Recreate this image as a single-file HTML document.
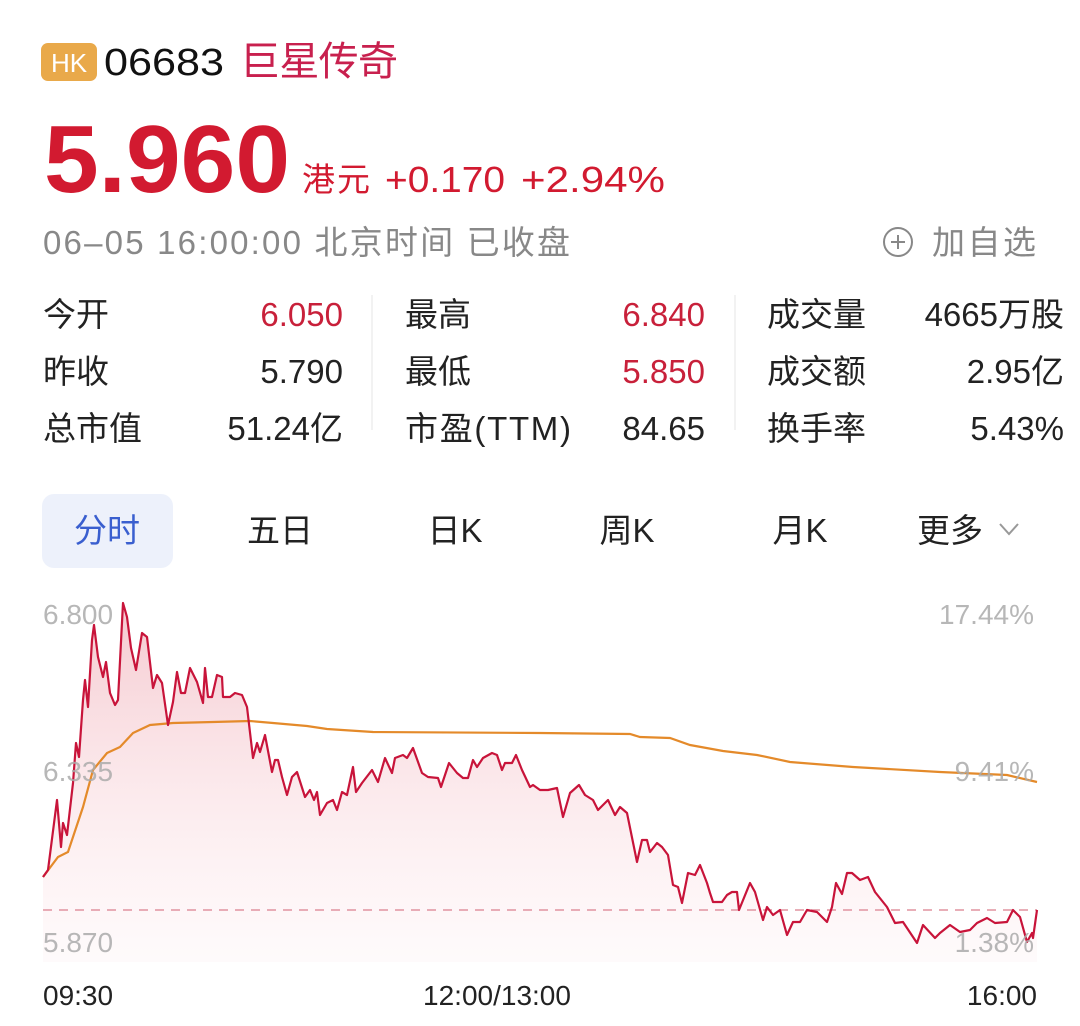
<!DOCTYPE html>
<html><head><meta charset="utf-8"><style>
html,body{margin:0;padding:0;background:#fff;}
body{width:1080px;height:1021px;overflow:hidden;}
svg text{font-family:"Liberation Sans","Noto Sans CJK SC",sans-serif;}
</style></head><body>
<svg width="1080" height="1021" viewBox="0 0 1080 1021" xmlns="http://www.w3.org/2000/svg">
<defs>
<linearGradient id="g" x1="0" y1="0" x2="0" y2="1">
<stop offset="0" stop-color="#f2b8c0" stop-opacity="0.75"/>
<stop offset="1" stop-color="#fdecef" stop-opacity="0.25"/>
</linearGradient>
</defs>
<!-- header -->
<rect x="41" y="43" width="56" height="38" rx="7" fill="#e9a94a"/>
<text x="69" y="72" font-size="26" fill="#fff" text-anchor="middle">HK</text>
<text x="104" y="75" font-size="38" fill="#111" textLength="120" lengthAdjust="spacingAndGlyphs">06683</text>
<text x="240" y="75" font-size="40" fill="#c8204e" textLength="158">巨星传奇</text>
<text x="44" y="192" font-size="96" font-weight="bold" fill="#d21a30" textLength="246" lengthAdjust="spacingAndGlyphs">5.960</text>
<text x="302" y="191" font-size="33" fill="#d21a30" textLength="68">港元</text>
<text x="385" y="192" font-size="36" fill="#d21a30" textLength="120" lengthAdjust="spacingAndGlyphs">+0.170</text>
<text x="521" y="192" font-size="36" fill="#d21a30" textLength="144" lengthAdjust="spacingAndGlyphs">+2.94%</text>
<text x="43" y="254" font-size="33" fill="#888" textLength="527">06–05 16:00:00  北京时间  已收盘</text>
<circle cx="898" cy="242" r="14" fill="none" stroke="#888" stroke-width="2"/>
<path d="M891 242h14M898 235v14" stroke="#888" stroke-width="2"/>
<text x="932" y="254" font-size="33" fill="#888" textLength="104">加自选</text>
<!-- stats -->
<g font-size="33" fill="#222">
<text x="43" y="326">今开</text><text x="43" y="383">昨收</text><text x="43" y="440">总市值</text>
<text x="343" y="326" text-anchor="end" fill="#c8203a">6.050</text>
<text x="343" y="383" text-anchor="end">5.790</text>
<text x="343" y="440" text-anchor="end">51.24亿</text>
<text x="405" y="326">最高</text><text x="405" y="383">最低</text><text x="405" y="440" textLength="166">市盈(TTM)</text>
<text x="705" y="326" text-anchor="end" fill="#c8203a">6.840</text>
<text x="705" y="383" text-anchor="end" fill="#c8203a">5.850</text>
<text x="705" y="440" text-anchor="end">84.65</text>
<text x="767" y="326">成交量</text><text x="767" y="383">成交额</text><text x="767" y="440">换手率</text>
<text x="1064" y="326" text-anchor="end">4665万股</text>
<text x="1064" y="383" text-anchor="end">2.95亿</text>
<text x="1064" y="440" text-anchor="end">5.43%</text>
</g>
<line x1="372" y1="295" x2="372" y2="430" stroke="#eee" stroke-width="1.5"/>
<line x1="735" y1="295" x2="735" y2="430" stroke="#eee" stroke-width="1.5"/>
<!-- tabs -->
<rect x="42" y="494" width="131" height="74" rx="12" fill="#edf1fb"/>
<g font-size="33" fill="#222">
<text x="107" y="542" text-anchor="middle" fill="#3a5fcf">分时</text>
<text x="280" y="542" text-anchor="middle">五日</text>
<text x="455" y="542" text-anchor="middle">日K</text>
<text x="627" y="542" text-anchor="middle">周K</text>
<text x="800" y="542" text-anchor="middle">月K</text>
<text x="917" y="542">更多</text>
</g>
<path d="M1000 524l9 10 9-10" fill="none" stroke="#999" stroke-width="2"/>
<!-- chart -->
<polygon fill="url(#g)" points="43,877 48,870 57,800 61,847 63,823 67,835 73,783 76,743 79,757 83,700 85,680 88,707 92,640 94,625 98,657 103,677 106,662 110,693 115,705 118,700 123,603 127,617 131,648 136,670 142,633 147,637 153,688 157,675 162,683 168,725 173,702 177,672 181,693 185,693 190,668 197,682 203,703 205,668 208,697 212,697 217,675 222,677 223,697 230,697 235,693 242,695 247,707 253,758 257,743 260,752 265,735 272,772 275,760 278,760 282,777 287,795 292,777 297,772 305,797 310,790 314,800 317,792 320,815 327,803 333,800 337,810 342,792 347,795 353,767 356,792 362,783 372,770 378,782 385,758 392,773 395,758 403,755 407,758 413,748 422,773 428,777 438,778 441,787 449,763 457,773 463,778 468,778 473,760 477,767 483,758 492,753 497,755 502,770 505,763 512,763 516,755 522,770 530,787 533,785 540,790 548,790 557,788 563,817 570,793 579,785 585,795 593,800 598,810 608,800 615,815 620,807 627,813 637,862 642,840 647,840 650,852 657,843 662,847 668,855 673,885 678,887 682,903 688,873 695,875 700,865 707,883 710,893 713,902 722,902 727,895 732,892 737,892 739,910 750,883 755,892 763,920 767,907 773,915 780,910 787,935 793,922 800,922 807,910 817,912 827,922 832,907 836,883 842,894 847,873 852,873 860,880 868,877 875,892 887,907 895,923 903,922 917,943 923,925 935,938 940,933 950,925 960,932 970,930 977,923 987,918 995,923 1007,922 1013,910 1020,917 1027,942 1032,933 1033,938 1037,910 1037,962 43,962"/>
<line x1="43" y1="910" x2="1037" y2="910" stroke="#e0939f" stroke-width="1.5" stroke-dasharray="9,7"/>
<polyline fill="none" stroke="#e48a2a" stroke-width="2.2" points="43,877 58,857 68,852 83,807 93,770 107,753 120,747 133,733 150,725 173,723 213,722 250,721 273,723 307,726 327,729 373,732 540,733 630,734 640,737 670,738 690,745 723,751 757,755 790,762 853,767 940,772 1007,775 1037,782"/>
<polyline fill="none" stroke="#c8143a" stroke-width="2.2" stroke-linejoin="round" points="43,877 48,870 57,800 61,847 63,823 67,835 73,783 76,743 79,757 83,700 85,680 88,707 92,640 94,625 98,657 103,677 106,662 110,693 115,705 118,700 123,603 127,617 131,648 136,670 142,633 147,637 153,688 157,675 162,683 168,725 173,702 177,672 181,693 185,693 190,668 197,682 203,703 205,668 208,697 212,697 217,675 222,677 223,697 230,697 235,693 242,695 247,707 253,758 257,743 260,752 265,735 272,772 275,760 278,760 282,777 287,795 292,777 297,772 305,797 310,790 314,800 317,792 320,815 327,803 333,800 337,810 342,792 347,795 353,767 356,792 362,783 372,770 378,782 385,758 392,773 395,758 403,755 407,758 413,748 422,773 428,777 438,778 441,787 449,763 457,773 463,778 468,778 473,760 477,767 483,758 492,753 497,755 502,770 505,763 512,763 516,755 522,770 530,787 533,785 540,790 548,790 557,788 563,817 570,793 579,785 585,795 593,800 598,810 608,800 615,815 620,807 627,813 637,862 642,840 647,840 650,852 657,843 662,847 668,855 673,885 678,887 682,903 688,873 695,875 700,865 707,883 710,893 713,902 722,902 727,895 732,892 737,892 739,910 750,883 755,892 763,920 767,907 773,915 780,910 787,935 793,922 800,922 807,910 817,912 827,922 832,907 836,883 842,894 847,873 852,873 860,880 868,877 875,892 887,907 895,923 903,922 917,943 923,925 935,938 940,933 950,925 960,932 970,930 977,923 987,918 995,923 1007,922 1013,910 1020,917 1027,942 1032,933 1033,938 1037,910"/>
<g font-size="28" fill="#aaa" fill-opacity="0.85">
<text x="43" y="624">6.800</text>
<text x="43" y="781">6.335</text>
<text x="43" y="952">5.870</text>
<text x="1034" y="624" text-anchor="end">17.44%</text>
<text x="1034" y="781" text-anchor="end">9.41%</text>
<text x="1034" y="952" text-anchor="end">1.38%</text>
</g>
<g font-size="28" fill="#222">
<text x="43" y="1005">09:30</text>
<text x="497" y="1005" text-anchor="middle">12:00/13:00</text>
<text x="1037" y="1005" text-anchor="end">16:00</text>
</g>
</svg>
</body></html>
